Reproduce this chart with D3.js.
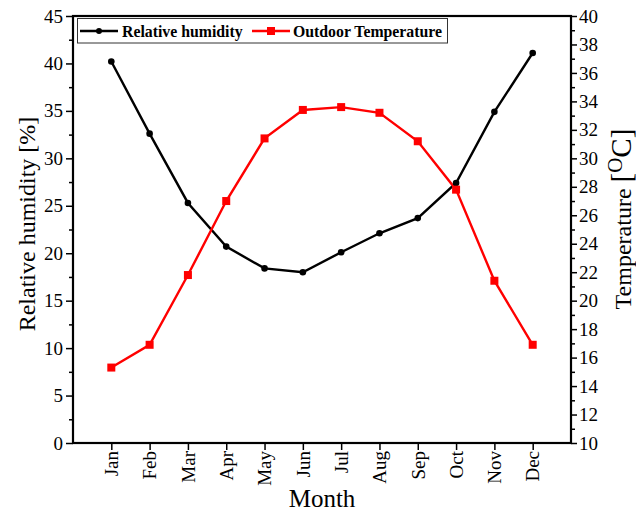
<!DOCTYPE html>
<html>
<head>
<meta charset="utf-8">
<script src="https://cdn.jsdelivr.net/npm/d3@7"></script>
<style>
  body { margin: 0; background: #fff; }
  svg { display: block; font-family: "Liberation Serif", "Times New Roman", serif; }
  .axis path, .axis line { stroke: #000; }
  .axis text { fill: #000; }
</style>
</head>
<body>
<div id="chart"></div>
<script>
// month categories and both series
var months = ["Jan","Feb","Mar","Apr","May","Jun","Jul","Aug","Sep","Oct","Nov","Dec"];
var humidity = [40.2, 32.6, 25.3, 20.7, 18.4, 18.0, 20.1, 22.1, 23.7, 27.4, 34.9, 41.1];
var temperature = [15.3, 16.9, 21.8, 27.0, 31.4, 33.4, 33.6, 33.2, 31.2, 27.8, 21.4, 16.9];
var humidityTicks = [0, 5, 10, 15, 20, 25, 30, 35, 40, 45];
var tempTicks = [10, 12, 14, 16, 18, 20, 22, 24, 26, 28, 30, 32, 34, 36, 38, 40];

var W = 636, H = 512;
var margin = {top: 16, right: 65, bottom: 69, left: 73};
var width = W - margin.left - margin.right;
var height = H - margin.top - margin.bottom;

var svg = d3.select("#chart").append("svg")
  .attr("width", W)
  .attr("height", H);

var g = svg.append("g")
  .attr("transform", "translate(" + margin.left + "," + margin.top + ")");

// x: month index 1..12 placed on 0..13
var x = d3.scaleLinear().domain([0, months.length + 1]).range([0, width]);
var yL = d3.scaleLinear().domain([0, 45]).range([height, 0]);
var yR = d3.scaleLinear().domain([10, 40]).range([height, 0]);

// minor ticks first, so majors sit on top
g.append("g").attr("class", "axis")
  .call(d3.axisLeft(yL).tickValues(d3.range(2.5, 45, 5)).tickSize(4).tickSizeOuter(0).tickFormat(""))
  .call(function(s) { s.select(".domain").remove(); })
  .selectAll("line").attr("stroke-width", 1.5);

g.append("g").attr("class", "axis")
  .attr("transform", "translate(" + width + ",0)")
  .call(d3.axisRight(yR).tickValues(d3.range(11, 40, 2)).tickSize(4).tickSizeOuter(0).tickFormat(""))
  .call(function(s) { s.select(".domain").remove(); })
  .selectAll("line").attr("stroke-width", 1.5);

// left axis
var axL = g.append("g").attr("class", "axis")
  .call(d3.axisLeft(yL).tickValues(humidityTicks).tickSize(7).tickSizeOuter(0).tickPadding(3));
axL.selectAll("line").attr("stroke-width", 1.5);
axL.selectAll("text").attr("font-size", 19).attr("font-family", "Liberation Serif");

// right axis
var axR = g.append("g").attr("class", "axis")
  .attr("transform", "translate(" + width + ",0)")
  .call(d3.axisRight(yR).tickValues(tempTicks).tickSize(6).tickSizeOuter(0).tickPadding(2));
axR.selectAll("line").attr("stroke-width", 1.5);
axR.selectAll("text").attr("font-size", 19).attr("font-family", "Liberation Serif");

// bottom axis with rotated month names
var axB = g.append("g").attr("class", "axis")
  .attr("transform", "translate(0," + height + ")")
  .call(d3.axisBottom(x).tickValues(d3.range(1, 13)).tickSize(7).tickSizeOuter(0)
    .tickFormat(function(d) { return months[d - 1]; }));
axB.selectAll("line").attr("stroke-width", 1.5);
axB.selectAll("text")
  .attr("font-size", 19)
  .attr("font-family", "Liberation Serif")
  .attr("text-anchor", "end")
  .attr("transform", "rotate(-90)")
  .attr("x", -8)
  .attr("y", 0)
  .attr("dy", "0.33em");

// frame
g.append("rect")
  .attr("width", width).attr("height", height)
  .attr("fill", "none").attr("stroke", "#000").attr("stroke-width", 2.2);

// lines
var lineH = d3.line().x(function(d, i) { return x(i + 1); }).y(function(d) { return yL(d); });
var lineT = d3.line().x(function(d, i) { return x(i + 1); }).y(function(d) { return yR(d); });

g.append("path").datum(humidity)
  .attr("d", lineH).attr("fill", "none").attr("stroke", "#000").attr("stroke-width", 2.4);
g.append("path").datum(temperature)
  .attr("d", lineT).attr("fill", "none").attr("stroke", "#f00").attr("stroke-width", 2.4);

g.selectAll(".dotH").data(humidity).enter().append("circle")
  .attr("class", "dotH")
  .attr("cx", function(d, i) { return x(i + 1); })
  .attr("cy", function(d) { return yL(d); })
  .attr("r", 3.3).attr("fill", "#000");

g.selectAll(".sqT").data(temperature).enter().append("rect")
  .attr("class", "sqT")
  .attr("x", function(d, i) { return x(i + 1) - 4; })
  .attr("y", function(d) { return yR(d) - 4; })
  .attr("width", 8).attr("height", 8).attr("fill", "#f00");

// legend
var lg = svg.append("g");
lg.append("rect")
  .attr("x", 77.5).attr("y", 18.5).attr("width", 370).attr("height", 24.5)
  .attr("fill", "#fff").attr("stroke", "#333").attr("stroke-width", 1);
lg.append("line").attr("x1", 80).attr("x2", 118).attr("y1", 31).attr("y2", 31)
  .attr("stroke", "#000").attr("stroke-width", 2.4);
lg.append("circle").attr("cx", 99).attr("cy", 31).attr("r", 3).attr("fill", "#000");
lg.append("text").attr("x", 122).attr("y", 37)
  .attr("font-size", 15.8).attr("font-weight", "bold").text("Relative humidity");
lg.append("line").attr("x1", 252).attr("x2", 290).attr("y1", 31).attr("y2", 31)
  .attr("stroke", "#f00").attr("stroke-width", 2.4);
lg.append("rect").attr("x", 267).attr("y", 27).attr("width", 8).attr("height", 8).attr("fill", "#f00");
lg.append("text").attr("x", 293).attr("y", 37)
  .attr("font-size", 15.8).attr("font-weight", "bold").text("Outdoor Temperature");

// axis titles
svg.append("text")
  .attr("transform", "translate(35,224) rotate(-90)")
  .attr("text-anchor", "middle").attr("font-size", 24)
  .text("Relative humidity [%]");

var tt = svg.append("text")
  .attr("transform", "translate(631,219) rotate(-90)")
  .attr("text-anchor", "middle").attr("font-size", 24);
tt.append("tspan").text("Temperature ");
tt.append("tspan").attr("font-size", 29).text("[");
tt.append("tspan").attr("font-size", 21).attr("dy", -9).text("O");
tt.append("tspan").attr("font-size", 29).attr("dy", 9).text("C]");

svg.append("text")
  .attr("x", margin.left + width / 2).attr("y", 507)
  .attr("text-anchor", "middle").attr("font-size", 25)
  .text("Month");
</script>
</body>
</html>
